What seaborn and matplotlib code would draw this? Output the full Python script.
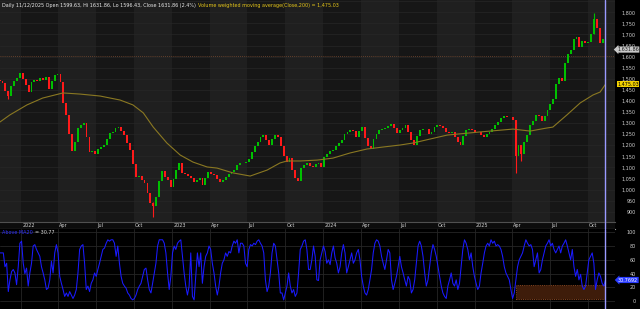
import matplotlib
matplotlib.use("Agg")
import matplotlib.pyplot as plt
import matplotlib.dates as mdates
import matplotlib.transforms as mtrans
from matplotlib import font_manager as fm
from matplotlib.patches import Rectangle
import numpy as np
import pandas as pd
import seaborn as sns

# ---------------- data ----------------
# weekly closes, Nov 2021 -> Nov 2025
closes = [
    1490, 1480, 1445, 1420, 1468, 1490, 1505, 1524, 1500, 1470,
    1440, 1485, 1495, 1488, 1502, 1495, 1510, 1455, 1488, 1515,
    1520, 1485, 1390, 1335, 1250, 1175, 1215, 1280, 1290, 1300,
    1235, 1168, 1175, 1162, 1182, 1192, 1200, 1230, 1255, 1262,
    1278, 1282, 1265, 1245, 1212, 1178, 1115, 1055, 1060, 1045,
    1028, 985, 940, 925, 965, 1040, 1085, 1055, 1042, 1010,
    1048, 1090, 1118, 1075, 1068, 1060, 1050, 1032, 1045, 1052,
    1022, 1050, 1078, 1072, 1066, 1048, 1035, 1045, 1057, 1068,
    1078, 1090, 1110, 1120, 1118, 1124, 1140, 1168, 1195, 1215,
    1235, 1244, 1225, 1200, 1228, 1245, 1238, 1195, 1150, 1124,
    1142, 1090, 1050, 1038, 1098, 1110, 1120, 1108, 1100, 1115,
    1120, 1100, 1145, 1160, 1172, 1180, 1195, 1208, 1225, 1250,
    1262, 1268, 1265, 1238, 1265, 1282, 1232, 1195, 1185, 1228,
    1250, 1268, 1272, 1278, 1285, 1298, 1280, 1255, 1268, 1280,
    1290, 1262, 1225, 1202, 1240, 1268, 1275, 1272, 1250, 1262,
    1282, 1290, 1285, 1276, 1262, 1255, 1258, 1235, 1215, 1202,
    1240, 1268, 1272, 1268, 1262, 1258, 1245, 1235, 1250, 1262,
    1275, 1290, 1305, 1325, 1330, 1326, 1328, 1312, 1150, 1200,
    1160, 1215, 1245, 1290, 1310, 1335, 1330, 1308, 1330, 1360,
    1385, 1410, 1478, 1505, 1492, 1570, 1610, 1630, 1680, 1688,
    1645, 1672, 1660, 1665, 1700, 1770, 1730, 1660, 1680, 1632,
]
first_open = 1495
first_week = "2021-11-10"

# candles with visible long shadows
wick_idx = [3, 53, 178, 180, 205, 209]
wick_low = [1410, 876, 1075, 1130, 1700, 1596]
wick_high = [1445, 945, 1312, 1200, 1797, 1680]

# volume weighted moving average (Close, 200)
ma_dates = ["2021-11-11", "2021-12-05", "2022-01-15", "2022-02-22", "2022-04-12",
            "2022-05-23", "2022-07-11", "2022-08-28", "2022-09-28", "2022-10-23",
            "2022-11-16", "2022-12-19", "2023-01-20", "2023-02-20", "2023-03-26",
            "2023-04-19", "2023-05-28", "2023-07-08", "2023-08-18", "2023-09-18",
            "2023-10-05", "2023-11-06", "2023-12-17", "2024-01-24", "2024-03-05",
            "2024-04-15", "2024-05-24", "2024-07-04", "2024-08-04", "2024-10-26",
            "2025-01-13", "2025-04-03", "2025-05-14", "2025-06-24", "2025-07-08",
            "2025-08-11", "2025-09-12", "2025-10-13", "2025-10-30", "2025-11-12"]
ma_values = [1305, 1337, 1382, 1413, 1436, 1431, 1422, 1404, 1382, 1346,
             1282, 1210, 1156, 1124, 1102, 1097, 1075, 1061, 1088, 1120,
             1129, 1129, 1133, 1142, 1165, 1183, 1192, 1201, 1210, 1246,
             1260, 1273, 1264, 1278, 1282, 1337, 1391, 1427, 1440, 1475.03]

# % above MA20 oscillator (sampled about every 4 days)
osc_values = [
    70, 70, 70, 50, 55, 14, 31, 43, 46, 41,
    24, 50, 84, 87, 55, 40, 48, 22, 41, 55,
    80, 82, 75, 70, 65, 50, 41, 31, 17, 19,
    31, 58, 41, 70, 82, 70, 36, 26, 17, 7,
    12, 7, 14, 9, 4, 9, 17, 41, 75, 80,
    82, 55, 17, 22, 14, 26, 31, 41, 36, 46,
    55, 65, 75, 77, 84, 89, 87, 89, 89, 84,
    65, 80, 55, 36, 26, 22, 19, 12, 9, 4,
    2, 4, 9, 17, 22, 26, 36, 46, 48, 31,
    17, 12, 26, 41, 55, 80, 89, 89, 89, 84,
    70, 41, 17, 36, 70, 80, 75, 84, 87, 89,
    65, 41, 22, 9, 22, 70, 7, 2, 36, 70,
    50, 70, 26, 50, 65, 70, 80, 75, 55, 41,
    22, 9, 22, 41, 55, 60, 70, 65, 72, 70,
    80, 87, 84, 89, 70, 84, 84, 80, 55, 50,
    75, 82, 80, 84, 82, 87, 89, 84, 80, 70,
    31, 14, 22, 41, 70, 84, 80, 60, 41, 12,
    12, 2, 12, 22, 41, 22, 12, 17, 7, 12,
    41, 75, 80, 87, 89, 75, 46, 46, 60, 80, 65, 31,
    30, 60, 70, 80, 72, 55, 60, 53, 70, 80,
    63, 55, 41, 50, 70, 82, 70, 41, 50, 60,
    70, 55, 60, 70, 75, 60, 36, 22, 12, 9,
    17, 31, 46, 70, 84, 89, 87, 80, 65, 55,
    46, 60, 75, 70, 31, 17, 26, 36, 50, 65,
    50, 41, 31, 22, 36, 31, 12, 17, 31, 55,
    80, 87, 80, 65, 41, 22, 31, 50, 70, 82,
    75, 65, 50, 36, 22, 12, 7, 4, 22, 31,
    41, 26, 22, 31, 17, 26, 50, 75, 89, 84,
    75, 60, 70, 50, 36, 26, 17, 22, 41, 55,
    70, 80, 84, 80, 89, 84, 87, 80, 82, 80,
    75, 65, 50, 41, 36, 31, 17, 4, 12, 31,
    50, 60, 65, 70, 80, 89, 84, 80, 82, 75,
    50, 60, 70, 41, 46, 60, 70, 80, 84, 89,
    80, 84, 75, 70, 75, 80, 70, 80, 84, 89,
    80, 70, 60, 75, 50, 36, 46, 31, 39, 22,
    17, 22, 41, 60, 65, 70, 55, 17, 31, 41,
    36, 26, 22, 30.77,
]
osc_start, osc_end = "2021-11-11", "2025-11-12"

zone_start, zone_end = "2025-04-11", "2025-11-12"
zone_low, zone_high = 3, 23

price_ticks = list(range(900, 1801, 50))
osc_ticks = [0, 20, 40, 60, 80, 100]
quarter_labels = ["2022", "Apr", "Jul", "Oct", "2023", "Apr", "Jul", "Oct",
                  "2024", "Apr", "Jul", "Oct", "2025", "Apr", "Jul", "Oct"]

title_main = "Daily 11/12/2025 Open 1599.63, Hi 1631.86, Lo 1596.43, Close 1631.86 (2.4%)"
title_ma = "Volume weighted moving average(Close,200) = 1,475.03"
last_close = 1631.86
ref_level = 1604
ma_last = 1475.03
osc_last = 30.77

# ---------------- style ----------------
sns.set_theme(style="dark")


def has_font(name):
    try:
        fm.findfont(fm.FontProperties(family=name), fallback_to_default=False)
        return True
    except Exception:
        return False


NARROW = has_font("Liberation Sans Narrow")
plt.rcParams["font.family"] = (["Liberation Sans Narrow", "DejaVu Sans"]
                               if NARROW else ["DejaVu Sans"])
FS = 4.3 if NARROW else 3.5

UP, DOWN = "#00c000", "#ff1a1a"
BAND_LIGHT, BAND_DARK = "#1f1f1f", "#161616"
TXT = "#d0d0d0"

W, H = 640, 309
fig = plt.figure(figsize=(6.4, 3.09), dpi=100, facecolor="black")
ax = fig.add_axes([0, 87 / H, 615 / W, 222 / H])
strip = fig.add_axes([0, 80 / H, 615 / W, 7 / H], sharex=ax)
ax2 = fig.add_axes([0, 0, 615 / W, 80 / H], sharex=ax)

x0 = mdates.date2num(pd.Timestamp("2021-11-11"))
x1 = mdates.date2num(pd.Timestamp("2025-12-05"))

# ---------------- main panel ----------------
ax.set_facecolor(BAND_LIGHT)
q_starts = pd.date_range("2021-10-01", "2026-01-01", freq="QS")
for s, e in zip(q_starts[:-1], q_starts[1:]):
    col = BAND_LIGHT if s.month in (4, 10) else BAND_DARK
    ax.axvspan(mdates.date2num(s), mdates.date2num(e), color=col, lw=0, zorder=0)
for v in range(850, 1901, 50):
    ax.axhline(v, color="#272727", lw=0.5, zorder=0.5)

wx = mdates.date2num(pd.date_range(first_week, periods=len(closes), freq="7D"))
opens = [first_open] + closes[:-1]
colors = [UP if c >= o else DOWN for o, c in zip(opens, closes)]
bottoms = [min(o, c) for o, c in zip(opens, closes)]
heights = [max(abs(c - o), 3) for o, c in zip(opens, closes)]
ax.vlines([wx[i] for i in wick_idx], wick_low, wick_high,
          colors=[colors[i] for i in wick_idx], lw=0.8, zorder=2.9)
ax.bar(wx, heights, bottom=bottoms, width=4.5, color=colors, lw=0, zorder=3)

ma_x = mdates.date2num(pd.to_datetime(ma_dates))
sns.lineplot(x=ma_x, y=ma_values, ax=ax, color="#8a7822", lw=0.8, zorder=4)
ax.axhline(ref_level, color="#7a4a30", ls=(0, (1, 1.5)), lw=0.6, zorder=2)

ax.set_xlim(x0, x1)
ax.set_ylim(853.6, 1855.5)
ax.set_xlabel("")
ax.set_ylabel("")
ax.yaxis.tick_right()
ax.set_yticks(price_ticks)
ax.set_yticklabels([f"{v:,}" for v in price_ticks])
ax.tick_params(axis="y", length=0, pad=15, labelsize=FS, labelcolor=TXT)
for t in ax.get_yticklabels():
    t.set_horizontalalignment("right")
ax.tick_params(axis="x", bottom=False, labelbottom=False)
for sp in ax.spines.values():
    sp.set_visible(False)

bt = mtrans.blended_transform_factory(ax.transAxes, ax.transData)
ax.text(617 / 615, last_close, f"{last_close:,.2f}", transform=bt, ha="left",
        va="center", fontsize=FS, color="#202020", clip_on=False, zorder=10,
        bbox=dict(boxstyle="larrow,pad=0.12", fc="#c8c8c8", ec="none"))
ax.text(617 / 615, ma_last, f"{ma_last:,.2f}", transform=bt, ha="left",
        va="center", fontsize=FS, color="#000000", clip_on=False, zorder=10,
        bbox=dict(boxstyle="square,pad=0.1", fc="#f2d000", ec="none"))

t1 = fig.text(2 / W, 1 - 5.5 / H, title_main, color="#e8e8e8", fontsize=FS,
              ha="left", va="center")
fig.add_artist(matplotlib.text.Annotation(
    title_ma, xy=(1, 0.5), xycoords=t1, xytext=(1.5, 0), textcoords="offset points",
    ha="left", va="center", color="#e6c619", fontsize=FS))

# ---------------- date strip ----------------
strip.set_facecolor("#0c0c0c")
strip.set_ylim(0, 1)
strip.tick_params(left=False, bottom=False, labelleft=False, labelbottom=False)
for side in ("left", "right"):
    strip.spines[side].set_visible(False)
strip.spines["top"].set_color("#505050")
strip.spines["top"].set_linewidth(0.8)
strip.spines["bottom"].set_color("#9a9a9a")
strip.spines["bottom"].set_linewidth(0.8)
lab_q = pd.date_range("2022-01-01", "2025-10-01", freq="QS")
st = mtrans.blended_transform_factory(strip.transData, strip.transAxes)
off = mtrans.ScaledTranslation(1 / 100, 0, fig.dpi_scale_trans)
for q, lab in zip(lab_q, quarter_labels):
    strip.text(mdates.date2num(q), 0.5, lab, transform=st + off, ha="left",
               va="center", fontsize=FS, color="#cfcfcf")

# ---------------- oscillator panel ----------------
ax2.set_facecolor("black")
for v in osc_ticks:
    ax2.axhline(v, color="#262626", lw=0.6, zorder=0.5)
for q in lab_q:
    ax2.axvline(mdates.date2num(q), color="#262626", lw=0.6, zorder=0.5)
zx0 = mdates.date2num(pd.Timestamp(zone_start))
zx1 = mdates.date2num(pd.Timestamp(zone_end))
ax2.add_patch(Rectangle((zx0, zone_low), zx1 - zx0, zone_high - zone_low,
                        fc="#3e1c0a", ec="#a8582a", ls=":", lw=0.6, zorder=1.5))
osc_x = mdates.date2num(pd.date_range(osc_start, osc_end, periods=len(osc_values)))
sns.lineplot(x=osc_x, y=osc_values, ax=ax2, color="#1a1aff", lw=0.75, zorder=3)
ax2.set_xlim(x0, x1)
ax2.set_ylim(-11.2, 104.6)
ax2.set_xlabel("")
ax2.set_ylabel("")
ax2.yaxis.tick_right()
ax2.set_yticks(osc_ticks)
ax2.set_yticklabels([str(v) for v in osc_ticks])
ax2.tick_params(axis="y", length=0, pad=15, labelsize=FS, labelcolor=TXT)
for t in ax2.get_yticklabels():
    t.set_horizontalalignment("right")
ax2.tick_params(axis="x", bottom=False, labelbottom=False)
for sp in ax2.spines.values():
    sp.set_visible(False)
bt2 = mtrans.blended_transform_factory(ax2.transAxes, ax2.transData)
ax2.text(618 / 615, osc_last, "30.7692", transform=bt2, ha="left", va="center",
         fontsize=FS, color="white", clip_on=False, zorder=10,
         bbox=dict(boxstyle="larrow,pad=0.12", fc="#2a3cff", ec="none"))

t3 = fig.text(2 / W, 1 - 232 / H, "Above MA20", color="#3030ff", fontsize=FS,
              ha="left", va="center")
fig.add_artist(matplotlib.text.Annotation(
    f"= {osc_last}", xy=(1, 0.5), xycoords=t3, xytext=(1.5, 0),
    textcoords="offset points", ha="left", va="center", color="#d8d8d8", fontsize=FS))

last_x = mdates.date2num(pd.Timestamp("2025-11-12"))
for a in (ax, strip, ax2):
    a.axvline(last_x, color="#9a9aff", lw=1.0, zorder=6)

fig.savefig("out.png", dpi=100, facecolor="black")
